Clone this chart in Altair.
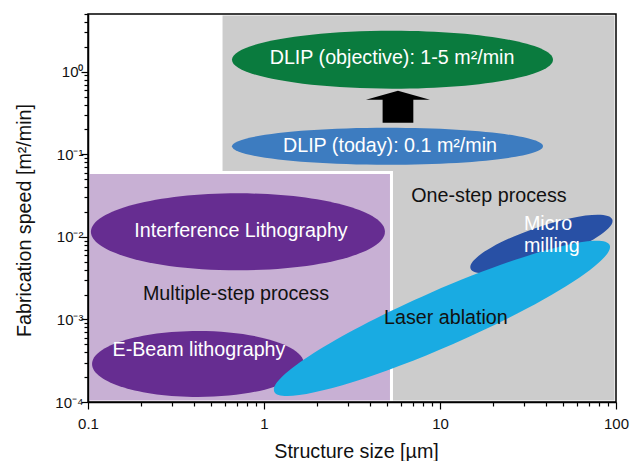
import json
import altair as alt
import pandas as pd

FONT = "Liberation Sans"
INK = "#111111"

# ---------------- data (structure size in µm, fabrication speed in m²/min) ----------------
region_names = ["One-step process", "Multiple-step process"]
region_size_min = [0.57, 0.1]
region_size_max = [100, 5.3]
region_speed_min = [1e-4, 1e-4]
region_speed_max = [5, 0.06]

process_names = ["Interference Lithography", "E-Beam lithography", "DLIP (today)",
                 "DLIP (objective)", "Micro milling", "Laser ablation"]
process_size = [0.711, 0.422, 5.03, 5.37, 37.7, 10.26]
process_speed = [0.0115, 2.89e-4, 0.125, 1.40, 8.2e-3, 1.03e-3]

arrow_size = [5.77]
arrow_speed = [0.377]

label_texts = ["DLIP (objective): 1-5 m²/min", "DLIP (today): 0.1 m²/min",
               "Interference Lithography", "E-Beam lithography", "Laser ablation",
               "Multiple-step process", "One-step process", "Micro", "milling"]
label_size = [5.34, 5.20, 0.740, 0.427, 10.8, 0.693, 18.98, 30.0, 30.0]
label_speed = [1.48, 0.1267, 0.0118, 4.26e-4, 1.03e-3, 2.04e-3, 0.0314, 0.0144, 7.67e-3]

x_decades = [0.1, 1, 10, 100]
x_decade_labels = ["0.1", "1", "10", "100"]
y_decades = [0.0001, 0.001, 0.01, 0.1, 1]
y_decade_labels = ["10⁻⁴", "10⁻³", "10⁻²", "10⁻¹", "10⁰"]

# ---------------- styles ----------------
region_fill = ["#cccccc", "#c8b0d4"]
process_color = ["#662d91", "#662d91", "#3d7cc0", "#0a7b3e", "#2850a5", "#19abe2"]
process_w = [294, 212, 311, 321, 150, 366]
process_h = [77, 66, 37, 58, 34, 56]
process_angle = [0, 0, 0, 0, 341, 336.4]
label_color = ["white", "white", "white", "white", INK, INK, INK, "white", "white"]
label_align = ["center"] * 7 + ["left", "left"]
FS = 19.7
TICK_FS = 15

x_ticks = sorted(set([round(m * d, 6) for d in [0.1, 1, 10] for m in range(1, 10)] + [100]))
y_ticks = sorted(set(round(m * d, 8) for d in y_decades for m in range(1, 10) if m * d <= 5.0001))


def js(v):
    return json.dumps(v, ensure_ascii=False)


x_axis = alt.Axis(
    values=x_ticks,
    labelExpr=f"{js(x_decade_labels)}[indexof({js(x_decades)}, datum.value)] || ''",
    tickSize={"condition": {"test": f"indexof({js(x_decades)}, datum.value) >= 0", "value": 7}, "value": 4},
    labelPadding=7, labelFontSize=TICK_FS, labelFont=FONT, labelColor=INK,
    labelOverlap=False, labelFlush=False, labelBound=False,
    title="Structure size [µm]", titleFont=FONT, titleFontSize=FS, titleFontWeight="normal",
    titleColor=INK, titleX=268, titleY=55, titleBaseline="alphabetic", titleAlign="center",
    domainColor="black", domainWidth=1.5, tickColor="black", tickWidth=1.2,
    grid=False, zindex=1,
)
y_axis = alt.Axis(
    values=y_ticks,
    labelExpr=f"{js(y_decade_labels)}[indexof({js(y_decades)}, datum.value)] || ''",
    tickSize={"condition": {"test": f"indexof({js(y_decades)}, datum.value) >= 0", "value": 7}, "value": 4},
    labelPadding=-2, labelFontSize=TICK_FS, labelFont=FONT, labelColor=INK,
    labelOverlap=False, labelBound=False, labelFlush=False,
    title="Fabrication speed [m²/min]", titleFont=FONT, titleFontSize=FS, titleFontWeight="normal",
    titleColor=INK, titleAngle=270, titleX=-58, titleY=206, titleBaseline="alphabetic",
    titleAlign="center",
    domainColor="black", domainWidth=1.5, tickColor="black", tickWidth=1.2,
    grid=False, zindex=1,
)
xs = alt.Scale(type="log", domain=[0.1, 100], nice=False)
ys = alt.Scale(type="log", domain=[0.0001, 5], nice=False)


def X(f="x"):
    return alt.X(f"{f}:Q", scale=xs, axis=x_axis)


def Y(f="y"):
    return alt.Y(f"{f}:Q", scale=ys, axis=y_axis)


layers = []

# regions
for i, name in enumerate(region_names):
    df = pd.DataFrame({"name": [name], "x": [region_size_min[i]], "x2": [region_size_max[i]],
                       "y": [region_speed_min[i]], "y2": [region_speed_max[i]]})
    layers.append(
        alt.Chart(df).mark_rect(fill=region_fill[i], stroke="white", strokeWidth=3)
        .encode(x=X(), x2="x2:Q", y=Y(), y2="y2:Q")
    )


def ellipse_path(h):
    k = 0.5523
    return (f"M -1 0 C -1 {-k*h:.4f} {-k:.4f} {-h:.4f} 0 {-h:.4f} "
            f"C {k:.4f} {-h:.4f} 1 {-k*h:.4f} 1 0 "
            f"C 1 {k*h:.4f} {k:.4f} {h:.4f} 0 {h:.4f} "
            f"C {-k:.4f} {h:.4f} -1 {k*h:.4f} -1 0 Z")


arrow_path = "M 0 -0.5 L 1 -0.22 L 0.48 -0.22 L 0.48 0.5 L -0.48 0.5 L -0.48 -0.22 L -1 -0.22 Z"

order = [0, 1, 2, 3, "arrow", 4, 5]
for o in order:
    if o == "arrow":
        df = pd.DataFrame({"x": arrow_size, "y": arrow_speed})
        layers.append(
            alt.Chart(df).mark_point(shape=arrow_path, size=64 * 64, filled=True,
                                     color="black", opacity=1, strokeWidth=0)
            .encode(x=X(), y=Y())
        )
        continue
    i = o
    df = pd.DataFrame({"name": [process_names[i]], "x": [process_size[i]], "y": [process_speed[i]]})
    w = process_w[i]
    mk = dict(shape=ellipse_path(process_h[i] / w), size=w * w, filled=True,
              color=process_color[i], opacity=1, strokeWidth=0)
    if process_angle[i]:
        mk["angle"] = process_angle[i]
    layers.append(alt.Chart(df).mark_point(**mk).encode(x=X(), y=Y()))

# labels
for i, t in enumerate(label_texts):
    df = pd.DataFrame({"t": [t], "x": [label_size[i]], "y": [label_speed[i]]})
    layers.append(
        alt.Chart(df).mark_text(font=FONT, fontSize=FS, color=label_color[i],
                                align=label_align[i], baseline="middle")
        .encode(x=X(), y=Y(), text="t:N")
    )

# frame
frame = pd.DataFrame({"x": [0.1], "x2": [100], "y": [0.0001], "y2": [5]})
layers.append(
    alt.Chart(frame).mark_rect(fillOpacity=0, stroke="black", strokeWidth=1.5)
    .encode(x=X(), x2="x2:Q", y=Y(), y2="y2:Q")
)

chart = (
    alt.layer(*layers)
    .properties(width=528, height=388,
                padding={"left": 80, "top": 6, "right": 14, "bottom": 59},
                autosize=alt.AutoSizeParams(type="none"))
    .configure_view(strokeWidth=0)
)

chart.save("out.html", embed_options={"renderer": "svg", "actions": False})
